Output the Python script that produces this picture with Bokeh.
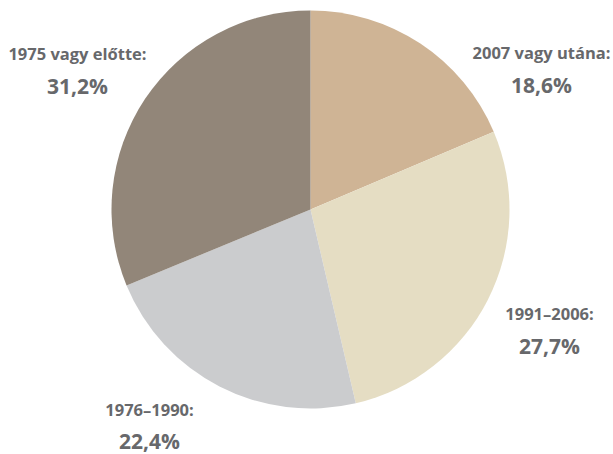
import numpy as np
from bokeh.plotting import figure
from bokeh.models import Range1d
from bokeh.embed import file_html
from bokeh.resources import INLINE
from bokeh.core.properties import value

# Data
categories = ["2007 vagy utána:", "1991–2006:", "1976–1990:", "1975 vagy előtte:"]
shares = [18.6, 27.7, 22.4, 31.2]
colors = ["#CFB495", "#E5DDC3", "#CBCCCE", "#928679"]

# Layout (y measured upward from the bottom of the 454px picture)
W, H = 613, 454
cx, cy, r = 310, 245, 199
label_pos = [(541, 402), (549, 141), (149, 45), (77, 401)]  # x, y of first line
line_gap = [32, 32, 31, 32]

vals = np.array(shares, dtype=float)
frac = vals / vals.sum()
cum = np.concatenate([[0.0], np.cumsum(frac)])
start = np.pi / 2 - 2 * np.pi * cum[:-1]
end = np.pi / 2 - 2 * np.pi * cum[1:]

p = figure(width=W, height=H, output_backend="svg", toolbar_location=None,
           x_range=Range1d(0, W), y_range=Range1d(0, H),
           min_border=0, outline_line_color=None)
p.axis.visible = False
p.grid.visible = False
p.background_fill_color = "white"

for s, e, c in zip(start, end, colors):
    p.wedge(x=cx, y=cy, radius=r, start_angle=s, end_angle=e, direction="clock",
            fill_color=c, line_color=None)

lx = [q[0] for q in label_pos]
ly = [q[1] for q in label_pos]
pct = [f"{v:.1f}%".replace(".", ",") for v in shares]

p.text(x=lx, y=ly, text=categories, text_align="center", text_baseline="middle",
       text_font=value("Open Sans"), text_font_style="bold", text_font_size="16.5px",
       text_color="#67686B")
p.text(x=lx, y=[y - g for y, g in zip(ly, line_gap)], text=pct, text_align="center",
       text_baseline="middle", text_font=value("Open Sans"), text_font_style="bold",
       text_font_size="21px", text_color="#67686B")

open("out.html", "w").write(file_html(p, INLINE))
